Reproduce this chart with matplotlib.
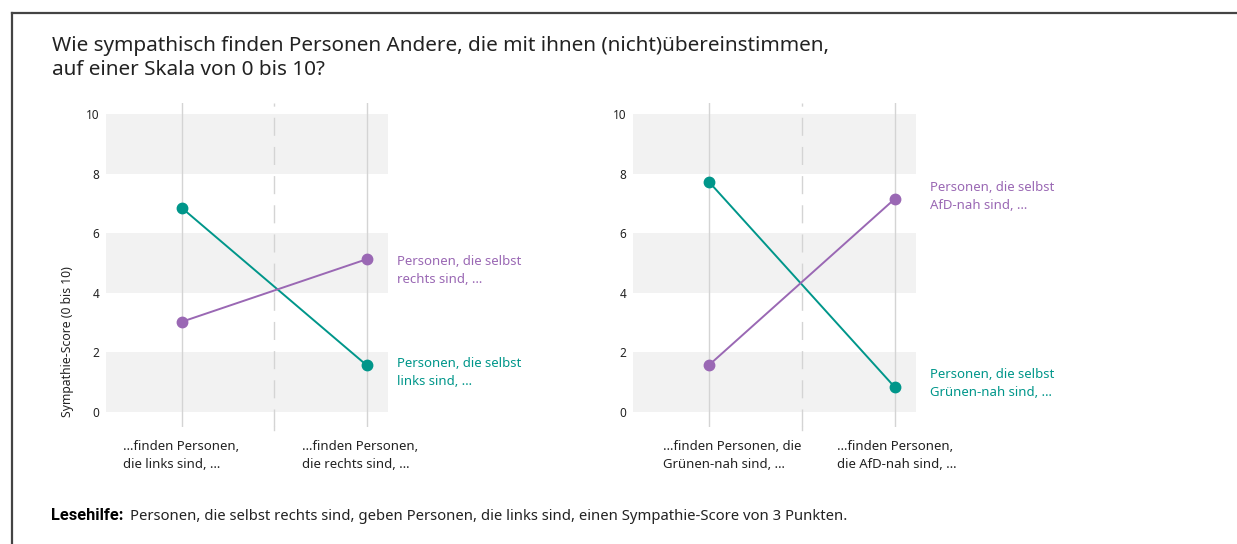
import matplotlib.pyplot as plt
from matplotlib.lines import Line2D

plt.rcParams['font.family'] = ['Noto Sans', 'DejaVu Sans']

# data
left_categories = ["…finden Personen,\ndie links sind, …", "…finden Personen,\ndie rechts sind, …"]
left_purple = [3.03, 5.13]   # Personen, die selbst rechts sind
left_teal = [6.85, 1.57]     # Personen, die selbst links sind
left_purple_label = "Personen, die selbst\nrechts sind, …"
left_teal_label = "Personen, die selbst\nlinks sind, …"

right_categories = ["…finden Personen, die\nGrünen-nah sind, …", "…finden Personen,\ndie AfD-nah sind, …"]
right_purple = [1.58, 7.15]  # Personen, die selbst AfD-nah sind
right_teal = [7.72, 0.84]    # Personen, die selbst Grünen-nah sind
right_purple_label = "Personen, die selbst\nAfD-nah sind, …"
right_teal_label = "Personen, die selbst\nGrünen-nah sind, …"

yticks = [0, 2, 4, 6, 8, 10]

TEAL = '#00968a'
PURPLE = '#9a68b4'
BAND = '#f2f2f2'
VLINE = '#d4d4d4'
TXT = '#222222'

W, H = 1237, 544
fig = plt.figure(figsize=(W / 100, H / 100), dpi=100)


def px_axes(left, right, top, bottom):
    return fig.add_axes([left / W, 1 - bottom / H, (right - left) / W, (bottom - top) / H])


def draw_panel(ax, cats, purple, teal, purple_lab, teal_lab, cat_x, purple_y, teal_y, lab_x):
    ax.set_xlim(-0.41, 1.115)
    ax.set_ylim(-0.5, 10.37)
    for lo in (0, 4, 8):
        ax.axhspan(lo, lo + 2, color=BAND, lw=0, zorder=0)
    for x in (0, 1):
        ax.axvline(x, color=VLINE, lw=1, zorder=1)
    ax.axvline(0.5, color=VLINE, lw=1, ls=(0, (13, 8)), zorder=1)
    # dashed line runs a little below the others
    ax.add_line(Line2D([0.5, 0.5], [-0.5, -0.6], color=VLINE, lw=1, clip_on=False))

    xs = [0, 1]
    ax.plot(xs, teal, color=TEAL, lw=1.4, marker='o', ms=7.5, zorder=3, clip_on=False)
    ax.plot(xs, purple, color=PURPLE, lw=1.4, marker='o', ms=7.5, zorder=3, clip_on=False)

    ax.text(lab_x, purple_y, purple_lab, color=PURPLE, fontsize=9.5, va='center', ha='left',
            linespacing=1.5, clip_on=False)
    ax.text(lab_x, teal_y, teal_lab, color=TEAL, fontsize=9.5, va='center', ha='left',
            linespacing=1.5, clip_on=False)

    for x, c in zip(cat_x, cats):
        ax.text(x, -0.95, c, color=TXT, fontsize=9.5, va='top', ha='left', linespacing=1.45,
                clip_on=False)

    ax.set_yticks(yticks)
    ax.set_yticklabels([str(v) for v in yticks], fontsize=8.5, color=TXT)
    ax.set_xticks([])
    ax.tick_params(axis='y', length=0, pad=5)
    for s in ax.spines.values():
        s.set_visible(False)


ax1 = px_axes(106, 388, 103, 427)
draw_panel(ax1, left_categories, left_purple, left_teal, left_purple_label, left_teal_label,
           cat_x=[-0.32, 0.65], purple_y=4.74, teal_y=1.32, lab_x=1.165)

ax2 = px_axes(633, 916, 103, 427)
draw_panel(ax2, right_categories, right_purple, right_teal, right_purple_label, right_teal_label,
           cat_x=[-0.25, 0.69], purple_y=7.22, teal_y=0.97, lab_x=1.19)

fig.text(68 / W, 1 - 417 / H, "Sympathie-Score (0 bis 10)", rotation=90, fontsize=8.8,
         color=TXT, ha='center', va='bottom')

fig.text(52 / W, 1 - 58 / H,
         "Wie sympathisch finden Personen Andere, die mit ihnen (nicht)übereinstimmen,\n"
         "auf einer Skala von 0 bis 10?",
         fontsize=14.9, color=TXT, ha='left', va='center', linespacing=1.25)

fig.text(51 / W, 1 - 516 / H, "Lesehilfe:", fontsize=11.8, weight='bold', color='black',
         family=['Roboto', 'DejaVu Sans'], ha='left', va='center')
fig.text(130 / W, 1 - 516 / H,
         "Personen, die selbst rechts sind, geben Personen, die links sind, einen Sympathie-Score von 3 Punkten.",
         fontsize=10.7, color=TXT, ha='left', va='center')

# frame of the screenshot (top and left edge)
fig.add_artist(Line2D([12 / W, 1], [1 - 13 / H, 1 - 13 / H], color='#444444', lw=1.6))
fig.add_artist(Line2D([12 / W, 12 / W], [0, 1 - 13 / H], color='#444444', lw=1.6))

fig.savefig('out.png', dpi=100, facecolor='white')
